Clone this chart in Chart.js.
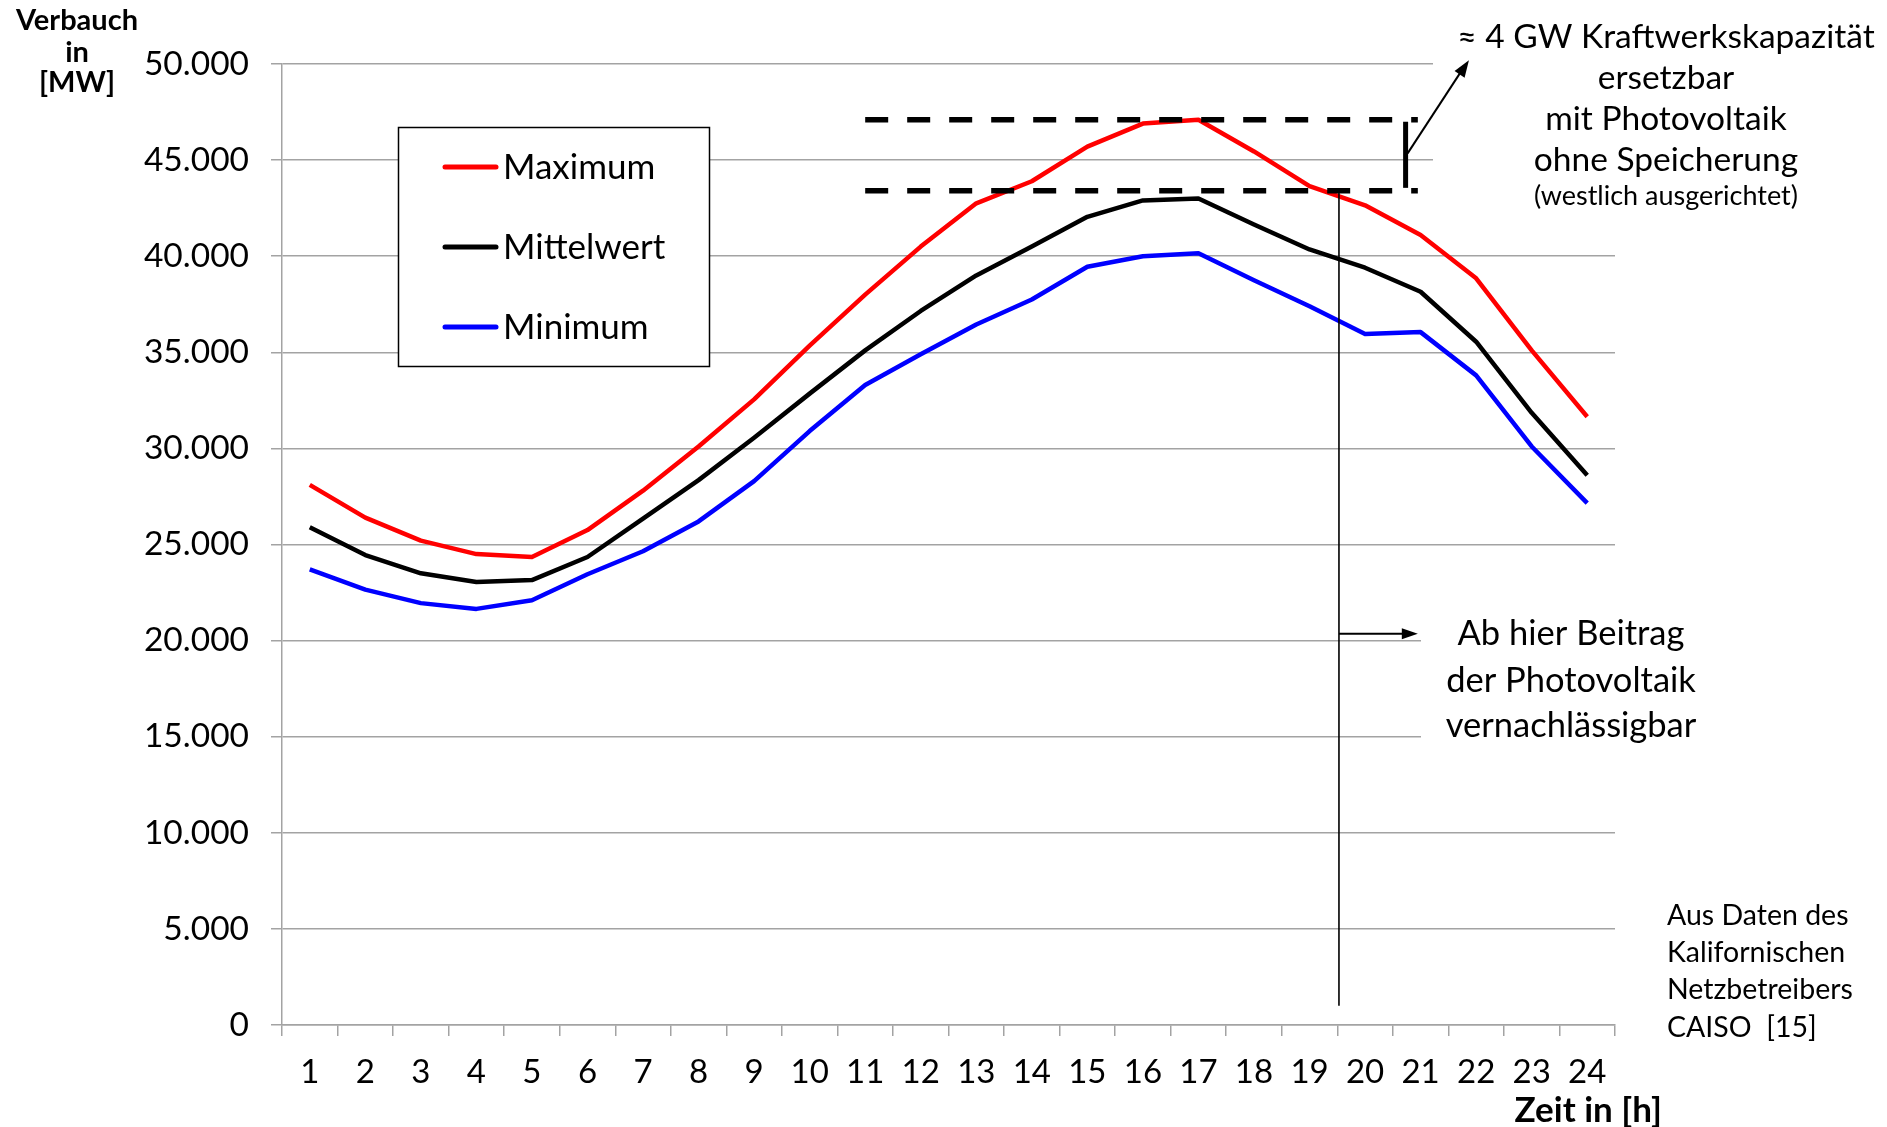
<!DOCTYPE html>
<html>
<head>
<meta charset="utf-8">
<script src="https://cdn.jsdelivr.net/npm/chart.js@4.4.1/dist/chart.umd.min.js"></script>
<style>
  html, body { margin: 0; padding: 0; background: #ffffff; }
  canvas { display: block; }
</style>
</head>
<body>
<canvas id="chart" width="1887" height="1127"></canvas>
<script>
// Hourly grid load (MW) – daily maximum, mean and minimum per hour of day
const hours = ['1','2','3','4','5','6','7','8','9','10','11','12','13','14','15','16','17','18','19','20','21','22','23','24'];
const maxValues  = [28100, 26400, 25200, 24500, 24350, 25750, 27800, 30100, 32550, 35350, 38000, 40500, 42750, 43900, 45700, 46900, 47100, 45450, 43650, 42650, 41100, 38850, 35100, 31650];
const meanValues = [25900, 24450, 23500, 23050, 23150, 24350, 26350, 28350, 30550, 32850, 35100, 37150, 39000, 40500, 42050, 42900, 43000, 41650, 40350, 39400, 38150, 35550, 31850, 28600];
const minValues  = [23700, 22650, 21950, 21650, 22100, 23450, 24650, 26200, 28300, 30900, 33300, 34900, 36450, 37750, 39450, 40000, 40150, 38750, 37400, 35950, 36050, 33800, 30100, 27150];
const yTickLabels = ['0','5.000','10.000','15.000','20.000','25.000','30.000','35.000','40.000','45.000','50.000'];
const seriesNames = ['Maximum', 'Mittelwert', 'Minimum'];

// Annotation levels (MW) and hour-axis positions (category index)
const peakLevel = 47100;      // upper dashed line
const cutLevel = 43400;       // lower dashed line
const dashFrom = 10;          // hour 11
const dashTo = 19.95;
const bracketAt = 19.73;
const bracketArrowFrom = 45350;
const bracketArrowTip = { x: 20.87, y: 50200 };
const cutoffAt = 18.53;       // between hour 19 and 20
const cutoffBottom = 1000;
const pointerLevel = 20350;
const pointerTo = 19.95;

const FONT = 'Lato, "Open Sans", "DejaVu Sans", sans-serif';
const gridColor = '#a3a3a3';

function arrowHead(ctx, x1, y1, x2, y2, len, half) {
  const a = Math.atan2(y2 - y1, x2 - x1);
  ctx.beginPath();
  ctx.moveTo(x2, y2);
  ctx.lineTo(x2 - len * Math.cos(a) + half * Math.sin(a), y2 - len * Math.sin(a) - half * Math.cos(a));
  ctx.lineTo(x2 - len * Math.cos(a) - half * Math.sin(a), y2 - len * Math.sin(a) + half * Math.cos(a));
  ctx.closePath();
  ctx.fill();
}

const overlay = {
  id: 'overlay',
  beforeDatasetsDraw(chart) {
    // text panels sit above the grid
    const ctx = chart.ctx;
    ctx.save();
    ctx.fillStyle = '#ffffff';
    ctx.fillRect(1433, 0, 454, 215);
    ctx.fillRect(1421, 598, 466, 165);
    ctx.restore();
  },
  afterDraw(chart) {
    const ctx = chart.ctx;
    const xs = chart.scales.x, ys = chart.scales.y;
    ctx.save();

    // dashed reference levels
    ctx.strokeStyle = '#000';
    ctx.lineWidth = 5.5;
    ctx.setLineDash([23, 19]);
    [peakLevel, cutLevel].forEach(v => {
      ctx.beginPath();
      ctx.moveTo(xs.getPixelForValue(dashFrom), ys.getPixelForValue(v));
      ctx.lineTo(xs.getPixelForValue(dashTo), ys.getPixelForValue(v));
      ctx.stroke();
    });
    ctx.setLineDash([]);

    // bracket between the two levels
    const bx = xs.getPixelForValue(bracketAt);
    ctx.lineWidth = 5;
    ctx.beginPath();
    ctx.moveTo(bx, ys.getPixelForValue(peakLevel) + 2);
    ctx.lineTo(bx, ys.getPixelForValue(cutLevel) - 3);
    ctx.stroke();

    // arrow from bracket to the note
    ctx.lineWidth = 2;
    ctx.fillStyle = '#000';
    const ax1 = bx + 2, ay1 = ys.getPixelForValue(bracketArrowFrom);
    const ax2 = xs.getPixelForValue(bracketArrowTip.x), ay2 = ys.getPixelForValue(bracketArrowTip.y);
    ctx.beginPath();
    ctx.moveTo(ax1, ay1);
    ctx.lineTo(ax2 - 5, ay2 + 7);
    ctx.stroke();
    arrowHead(ctx, ax1, ay1, ax2, ay2, 17, 6);

    // cut-off hour line and pointer
    const cx = xs.getPixelForValue(cutoffAt);
    ctx.lineWidth = 1.6;
    ctx.beginPath();
    ctx.moveTo(cx, ys.getPixelForValue(cutLevel));
    ctx.lineTo(cx, ys.getPixelForValue(cutoffBottom));
    ctx.stroke();
    const py = ys.getPixelForValue(pointerLevel);
    const px2 = xs.getPixelForValue(pointerTo);
    ctx.lineWidth = 2;
    ctx.beginPath();
    ctx.moveTo(cx, py);
    ctx.lineTo(px2 - 10, py);
    ctx.stroke();
    arrowHead(ctx, cx, py, px2, py, 16, 5.5);

    // legend
    ctx.fillStyle = '#fff';
    ctx.fillRect(398, 127, 312, 240);
    ctx.lineWidth = 1.5;
    ctx.strokeStyle = '#000';
    ctx.strokeRect(398.5, 127.5, 311, 239);
    const rows = [167, 247, 327];
    ctx.font = '35px ' + FONT;
    ctx.textAlign = 'left';
    ctx.textBaseline = 'alphabetic';
    chart.data.datasets.forEach((ds, i) => {
      ctx.strokeStyle = ds.borderColor;
      ctx.lineWidth = 5;
      ctx.lineCap = 'round';
      ctx.beginPath();
      ctx.moveTo(445, rows[i]);
      ctx.lineTo(496, rows[i]);
      ctx.stroke();
      ctx.fillStyle = '#000';
      ctx.fillText(ds.label, 503, rows[i] + 12);
    });
    ctx.lineCap = 'butt';

    // notes
    ctx.fillStyle = '#000';
    ctx.textAlign = 'center';
    ctx.font = '33.5px ' + FONT;
    [['≈ 4 GW Kraftwerkskapazität', 48], ['ersetzbar', 89], ['mit Photovoltaik', 130], ['ohne Speicherung', 171]]
      .forEach(([t, y]) => ctx.fillText(t, 1666, y));
    ctx.font = '27px ' + FONT;
    ctx.fillText('(westlich ausgerichtet)', 1666, 205);

    ctx.font = '34.5px ' + FONT;
    [['Ab hier Beitrag', 645], ['der Photovoltaik', 692], ['vernachlässigbar', 737]]
      .forEach(([t, y]) => ctx.fillText(t, 1571, y));

    ctx.textAlign = 'left';
    ctx.font = '28.5px ' + FONT;
    [['Aus Daten des', 925], ['Kalifornischen', 962], ['Netzbetreibers', 999], ['CAISO  [15]', 1037]]
      .forEach(([t, y]) => ctx.fillText(t, 1667, y));

    // axis titles
    ctx.font = 'bold 29px ' + FONT;
    ctx.textAlign = 'center';
    [['Verbauch', 30], ['in', 62], ['[MW]', 92]].forEach(([t, y]) => ctx.fillText(t, 77, y));
    ctx.font = 'bold 35px ' + FONT;
    ctx.textAlign = 'right';
    ctx.fillText('Zeit in [h]', 1662, 1122);

    ctx.restore();
  }
};

const lineStyle = { borderWidth: 4.5, pointRadius: 0, pointHoverRadius: 0, tension: 0, fill: false, borderJoinStyle: 'round' };

new Chart(document.getElementById('chart'), {
  type: 'line',
  data: {
    labels: hours,
    datasets: [
      Object.assign({ label: seriesNames[0], data: maxValues,  borderColor: '#ff0000' }, lineStyle),
      Object.assign({ label: seriesNames[1], data: meanValues, borderColor: '#000000' }, lineStyle),
      Object.assign({ label: seriesNames[2], data: minValues,  borderColor: '#0000ff' }, lineStyle)
    ]
  },
  options: {
    responsive: false,
    animation: false,
    devicePixelRatio: 1,
    layout: { padding: { left: 0, right: 272, top: 64, bottom: 0 } },
    plugins: { legend: { display: false }, tooltip: { enabled: false } },
    scales: {
      x: {
        type: 'category',
        offset: true,
        grid: { offset: true, drawOnChartArea: false, drawTicks: true, tickLength: 11, color: gridColor, lineWidth: 1.5 },
        border: { color: gridColor, width: 1.5 },
        ticks: { color: '#000', font: { family: FONT, size: 33 }, padding: 17, maxRotation: 0, autoSkip: false },
        afterFit: s => { s.height = 102; }
      },
      y: {
        min: 0,
        max: 50000,
        grid: { color: gridColor, lineWidth: 1.5, tickLength: 11 },
        border: { color: gridColor, width: 1.5 },
        ticks: {
          stepSize: 5000,
          color: '#000',
          font: { family: FONT, size: 33.5 },
          padding: 22,
          callback: (v, i) => yTickLabels[i]
        },
        afterFit: s => { s.width = 282; }
      }
    }
  },
  plugins: [overlay]
});
</script>
</body>
</html>
